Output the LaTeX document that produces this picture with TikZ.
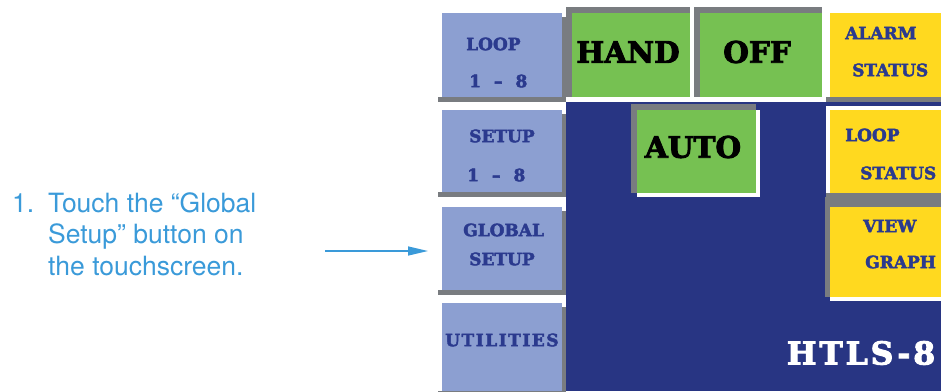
\documentclass[tikz,border=0pt]{standalone}
\usepackage{fontspec}
\usetikzlibrary{arrows.meta}
\newfontfamily\panelfont{DejaVu Serif}
\newfontfamily\notefont{TeX Gyre Heros}
\definecolor{panelblue}{HTML}{283583}
\definecolor{keyblue}{HTML}{8C9FD1}
\definecolor{labelblue}{HTML}{2B3A8E}
\definecolor{keygreen}{HTML}{76C152}
\definecolor{keyyellow}{HTML}{FFD91F}
\definecolor{keyshadow}{HTML}{797C80}
\definecolor{noteblue}{HTML}{3A9AD9}
\tikzset{
  small key/.style={font=\panelfont\bfseries\fontsize{17}{18}\selectfont\addfontfeature{FakeBold=2.5},text=labelblue,inner sep=0pt,anchor=west},
  big key/.style={font=\panelfont\bfseries\fontsize{29.5}{31}\selectfont\addfontfeature{FakeBold=3},text=black,inner sep=0pt},
  note/.style={font=\notefont\fontsize{26.5}{31.5}\selectfont,text=noteblue,inner sep=0pt}
}
\begin{document}
\begin{tikzpicture}[x=1pt,y=-1pt]
\useasboundingbox (0,0) rectangle (941,391);
\clip (0,0) rectangle (941,391);
% screen background
\fill[panelblue] (566,102) rectangle (941,391);
% left column, raised keys
\fill[keyshadow] (438,17) rectangle (566,102);
\fill[white] (438,9) rectangle (562,97);
\fill[keyblue] (442,13) rectangle (562,97);
\fill[keyshadow] (438,114) rectangle (566,197);
\fill[white] (438,106) rectangle (562,192);
\fill[keyblue] (442,110) rectangle (562,192);
\fill[keyshadow] (438,211) rectangle (566,295);
\fill[white] (438,203) rectangle (562,290);
\fill[keyblue] (442,207) rectangle (562,290);
\fill[keyshadow] (438,307) rectangle (566,396);
\fill[white] (438,299) rectangle (562,391);
\fill[keyblue] (442,303) rectangle (562,391);
% mode keys, sunken
\fill[keyshadow] (566,7) rectangle (690,97);
\fill[white] (572,13) rectangle (694,101);
\fill[keygreen] (572,13) rectangle (690,97);
\fill[keyshadow] (694,7) rectangle (822,97);
\fill[white] (700,13) rectangle (826,101);
\fill[keygreen] (700,13) rectangle (822,97);
\fill[keyshadow] (631,104) rectangle (756,193);
\fill[white] (637,110) rectangle (760,197);
\fill[keygreen] (637,110) rectangle (756,193);
% right column
\fill[keyshadow] (826,17) rectangle (945,102);
\fill[white] (826,9) rectangle (941,97);
\fill[keyyellow] (830,13) rectangle (941,97);
\fill[keyshadow] (826,114) rectangle (945,198);
\fill[white] (826,106) rectangle (941,193);
\fill[keyyellow] (830,110) rectangle (941,193);
\fill[keyshadow] (825,197) rectangle (941,297);
\fill[white] (830,207) rectangle (945,301);
\fill[keyyellow] (830,207) rectangle (941,297);
% key labels
\node[small key] (loop18a) at (466,44) {LOOP};
\node[small key] (loop18b) at (469,81) {1\hspace{13pt}–\hspace{13pt}8};
\node[small key] (setup18a) at (469,136) {SETUP};
\node[small key] (setup18b) at (467,175) {1\hspace{13pt}–\hspace{13pt}8};
\node[small key] (globala) at (463,230) {GLOBAL};
\node[small key] (globalb) at (469,259) {SETUP};
\node[small key,font=\panelfont\bfseries\fontsize{17}{18}\selectfont\addfontfeature{FakeBold=2.5,LetterSpace=9}] (utilities) at (445,340) {UTILITIES};
\node[small key] (alarma) at (845,33) {ALARM};
\node[small key] (alarmb) at (852,70) {STATUS};
\node[small key] (loopsta) at (845,135) {LOOP};
\node[small key] (loopstb) at (860,173) {STATUS};
\node[small key] (viewa) at (863,226) {VIEW};
\node[small key] (viewb) at (865,262) {GRAPH};
\node[big key] (hand) at (628,52) {HAND};
\node[big key] (off) at (757,52) {OFF};
\node[big key] (auto) at (693,147) {AUTO};
\node[big key,text=white,font=\panelfont\bfseries\fontsize{31.5}{33}\selectfont\addfontfeature{FakeBold=3,LetterSpace=9}] (model) at (861,353) {HTLS-8};
% instruction
\node[note,anchor=base west] (stepnum) at (12,212) {1.};
\node[note,anchor=north west,align=left] (steptext) at (48,192) {Touch the “Global\\Setup” button on\\the touchscreen.};
\coordinate (arrowtail) at (325,251);
\coordinate (arrowtip) at (428,251);
\draw[noteblue,line width=1.3pt,-{Triangle[length=20pt,width=9pt]}] (arrowtail) -- (arrowtip);
\end{tikzpicture}
\end{document}
